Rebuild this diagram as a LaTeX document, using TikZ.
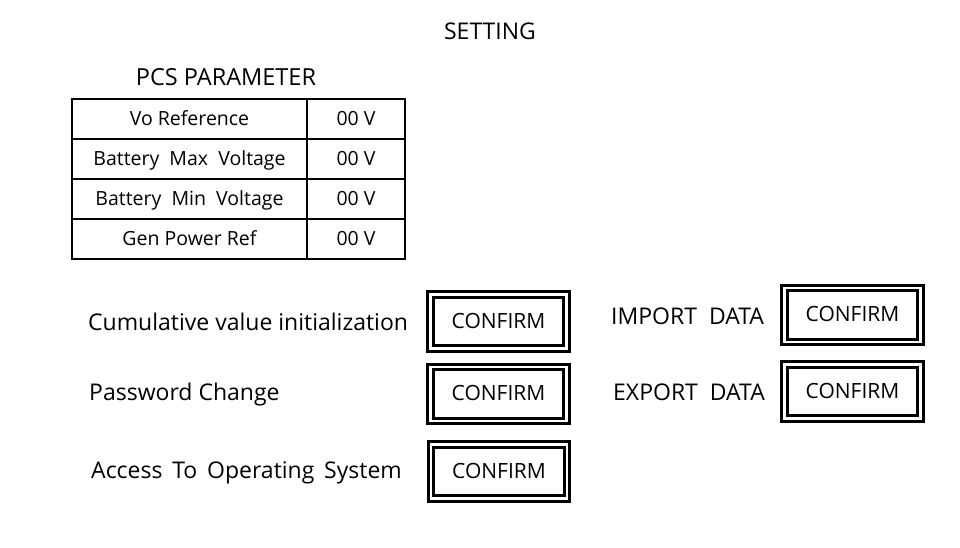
\documentclass[tikz,border=0pt]{standalone}
\usepackage{fontspec}
\setmainfont{Open Sans}
\usetikzlibrary{positioning}

\begin{document}
\begin{tikzpicture}[
                x=1pt, y=-1pt,
                cell/.style={rectangle, draw, line width=2pt, outer sep=0pt, minimum height=40pt, inner sep=0pt, text depth=2pt, font=\fontsize{19.5}{22}\selectfont},
                namecell/.style={cell, minimum width=235pt},
                valcell/.style={cell, minimum width=98pt},
                confirm/.style={rectangle, draw, double, line width=3pt, double distance=2.5pt, minimum width=136pt, minimum height=54pt, inner sep=0pt, text depth=2pt, font=\fontsize{21}{24}\selectfont},
                label/.style={anchor=west, inner sep=0pt, font=\fontsize{23}{27}\selectfont}
            ]
                \useasboundingbox (0,0) rectangle (960,547);

                % Titles
                \node[font=\fontsize{23}{27}\selectfont] (title) at (490,31) {SETTING};
                \node[font=\fontsize{23.5}{27}\selectfont] (pcs) at (226,77) {PCS PARAMETER};

                % Parameter table
                \node[namecell] (vo) at (189.5,119) {Vo Reference};
                \node[namecell, below=0pt of vo] (bmax) {Battery\ \ Max\ \ Voltage};
                \node[namecell, below=0pt of bmax] (bmin) {Battery\ \ Min\ \ Voltage};
                \node[namecell, below=0pt of bmin] (gen) {Gen Power Ref};
                \node[valcell, right=0pt of vo] (vov) {00 V};
                \node[valcell, right=0pt of bmax] (bmaxv) {00 V};
                \node[valcell, right=0pt of bmin] (bminv) {00 V};
                \node[valcell, right=0pt of gen] (genv) {00 V};

                % Buttons
                \node[confirm] (cumbtn) at (498.5,321.5) {CONFIRM};
                \node[confirm] (pwbtn) at (498.5,394) {CONFIRM};
                \node[confirm] (osbtn) at (499,471.5) {CONFIRM};
                \node[confirm] (impbtn) at (852.5,315) {CONFIRM};
                \node[confirm] (expbtn) at (852.5,391.5) {CONFIRM};

                % Labels
                \node[label] (cum) at (88,322) {Cumulative value initialization};
                \node[label] (pw) at (89,395) {Password Change};
                \node[label] (os) at (91,473) {Access\,\ To\,\ Operating\,\ System};
                \node[label] (imp) at (611,316) {IMPORT\ \ DATA};
                \node[label] (exp) at (613,392) {EXPORT\ \ DATA};
            \end{tikzpicture}
\end{document}
